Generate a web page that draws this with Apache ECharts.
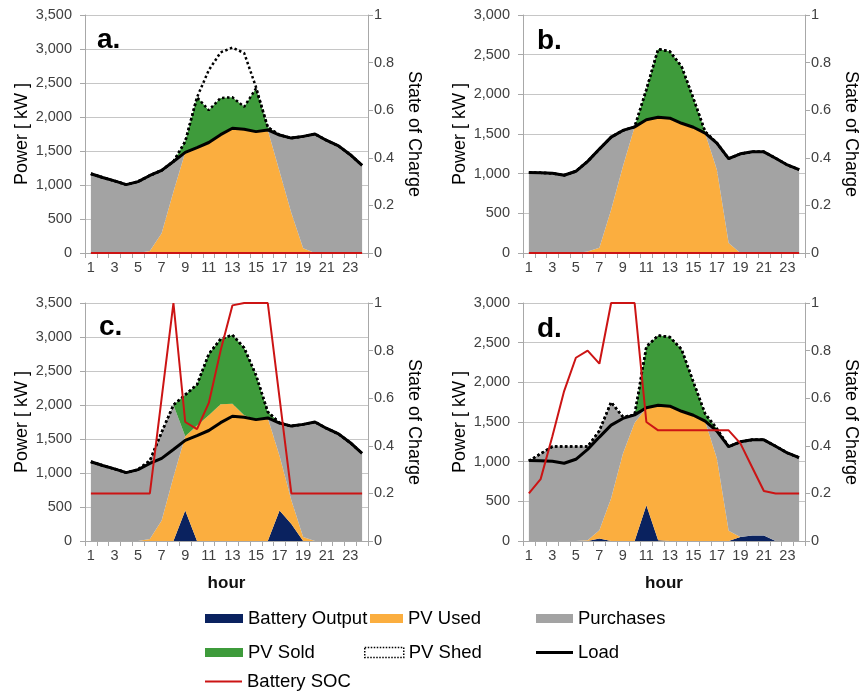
<!DOCTYPE html>
<html>
<head>
<meta charset="utf-8">
<script src="https://cdn.jsdelivr.net/npm/echarts@6/dist/echarts.min.js"></script>
<style>
  html, body { margin: 0; padding: 0; background: #fff; }
  #chart { width: 862px; height: 693px; }
</style>
</head>
<body>
<div id="chart"></div>
<script>
var hours = ['1','2','3','4','5','6','7','8','9','10','11','12','13','14','15','16','17','18','19','20','21','22','23','24'];
var powerTicksA = [0, 3500, 500];
var powerTicksB = [0, 3000, 500];
var socTicks = [0, 1, 0.2];

// a. / c. share the same load, b. / d. the other day
var loadAC = [1165,1110,1060,1005,1050,1140,1215,1345,1480,1550,1625,1740,1835,1820,1785,1810,1735,1690,1715,1750,1655,1575,1445,1290];
var loadBD = [1015,1010,1005,980,1030,1155,1310,1460,1545,1590,1680,1710,1700,1635,1585,1510,1385,1190,1250,1275,1275,1195,1110,1050];

// panel a.
var batA    = [0,0,0,0,0,0,0,0,0,0,0,0,0,0,0,0,0,0,0,0,0,0,0,0];
var pvUsedA = [0,0,0,0,0,30,290,900,1480,1550,1625,1740,1835,1820,1785,1810,1200,590,70,0,0,0,0,0];
var purchA  = [1165,1110,1060,1005,1050,1110,925,445,0,0,0,0,0,0,0,0,535,1100,1645,1750,1655,1575,1445,1290];
var soldA   = [0,0,0,0,0,0,0,0,160,740,475,540,455,330,635,40,0,0,0,0,0,0,0,0];
var shedA   = [0,0,0,0,0,0,0,0,0,0,590,670,730,790,20,0,0,0,0,0,0,0,0,0];
var socA    = [0,0,0,0,0,0,0,0,0,0,0,0,0,0,0,0,0,0,0,0,0,0,0,0];

// panel b.
var batB    = [0,0,0,0,0,0,0,0,0,0,0,0,0,0,0,0,0,0,0,0,0,0,0,0];
var pvUsedB = [0,0,0,0,0,20,65,545,1090,1590,1680,1710,1700,1635,1585,1510,1050,125,0,0,0,0,0,0];
var purchB  = [1015,1010,1005,980,1030,1135,1245,915,455,0,0,0,0,0,0,0,335,1065,1250,1275,1275,1195,1110,1050];
var soldB   = [0,0,0,0,0,0,0,0,0,0,380,860,840,715,365,20,0,0,0,0,0,0,0,0];
var shedB   = [0,0,0,0,0,0,0,0,0,0,0,0,0,0,0,0,0,0,0,0,0,0,0,0];
var socB    = [0,0,0,0,0,0,0,0,0,0,0,0,0,0,0,0,0,0,0,0,0,0,0,0];

// panel c.
var batC    = [0,0,0,0,0,0,0,0,450,0,0,0,0,0,0,0,450,250,0,0,0,0,0,0];
var pvUsedC = [0,0,0,0,0,30,300,940,1090,1700,1850,2010,2020,1850,1785,1810,800,350,60,0,0,0,0,0];
var purchC  = [1165,1110,1060,1005,1050,1150,1300,1060,0,0,0,0,0,0,0,0,485,1090,1655,1750,1655,1575,1445,1290];
var soldC   = [0,0,0,0,0,0,0,0,610,600,900,960,1010,990,655,90,0,0,0,0,0,0,0,0];
var shedC   = [0,0,0,0,0,0,0,0,0,0,0,0,0,0,0,0,0,0,0,0,0,0,0,0];
var socC    = [0.2,0.2,0.2,0.2,0.2,0.2,0.6,1,0.5,0.47,0.58,0.8,0.99,1,1,1,0.6,0.2,0.2,0.2,0.2,0.2,0.2,0.2];

// panel d.
var batD    = [0,0,0,0,0,0,30,0,0,0,450,10,0,0,0,0,0,0,50,70,70,0,0,0];
var pvUsedD = [0,0,0,0,0,10,105,540,1100,1490,1230,1700,1700,1635,1585,1510,1040,130,0,0,0,0,0,0];
var purchD  = [1010,1100,1190,1190,1190,1180,1255,1210,465,100,0,0,0,0,0,0,345,1060,1200,1205,1205,1195,1110,1050];
var soldD   = [0,0,0,0,0,0,0,0,0,0,770,880,870,780,420,95,30,0,0,0,0,0,0,0];
var shedD   = [0,0,0,0,0,0,0,0,0,0,0,0,0,0,0,0,0,0,0,0,0,0,0,0];
var socD    = [0.2,0.26,0.44,0.63,0.77,0.8,0.745,1,1,1,0.5,0.465,0.465,0.465,0.465,0.465,0.465,0.465,0.41,0.31,0.21,0.2,0.2,0.2];

var FONT = '"Liberation Sans", Arial, sans-serif';
var cNavy = '#0a225f', cOrange = '#fbae3f', cGray = '#a3a3a3', cGreen = '#3e9b3b', cRed = '#cc1414';
var gridLine = '#c6c6c6', axisGray = '#a8a8a8', labelGray = '#404040';

var panels = [
  {tag: 'a.', ticks: powerTicksA, bat: batA, pv: pvUsedA, pur: purchA, sold: soldA, shed: shedA, load: loadAC, soc: socA,
   grid: {left: 85, top: 15, width: 283, height: 238}, title: {left: 97, top: 26}, hour: false},
  {tag: 'b.', ticks: powerTicksB, bat: batB, pv: pvUsedB, pur: purchB, sold: soldB, shed: shedB, load: loadBD, soc: socB,
   grid: {left: 523, top: 15, width: 282, height: 238}, title: {left: 537, top: 27}, hour: false},
  {tag: 'c.', ticks: powerTicksA, bat: batC, pv: pvUsedC, pur: purchC, sold: soldC, shed: shedC, load: loadAC, soc: socC,
   grid: {left: 85, top: 303, width: 283, height: 238}, title: {left: 99, top: 313}, hour: true},
  {tag: 'd.', ticks: powerTicksB, bat: batD, pv: pvUsedD, pur: purchD, sold: soldD, shed: shedD, load: loadBD, soc: socD,
   grid: {left: 523, top: 303, width: 282, height: 238}, title: {left: 537, top: 315}, hour: true}
];

var grids = [], xAxes = [], yAxes = [], series = [], titles = [];

panels.forEach(function (p, i) {
  grids.push({left: p.grid.left, top: p.grid.top, width: p.grid.width, height: p.grid.height,
              containLabel: false, outerBoundsMode: 'none'});
  titles.push({text: p.tag, left: p.title.left, top: p.title.top, padding: 0,
               textStyle: {fontFamily: FONT, fontSize: 28, fontWeight: 'bold', color: '#000'}});
  xAxes.push({
    type: 'category', gridIndex: i, data: hours, boundaryGap: true,
    axisLine: {show: true, lineStyle: {color: axisGray, width: 1}},
    axisTick: {show: true, interval: 0, length: 5, lineStyle: {color: axisGray}},
    axisLabel: {interval: 1, margin: 7, fontFamily: FONT, fontSize: 14.5, color: labelGray},
    splitLine: {show: false},
    name: p.hour ? 'hour' : '', nameLocation: 'middle', nameGap: 34,
    nameTextStyle: {fontFamily: FONT, fontSize: 17, fontWeight: 'bold', color: '#111'}
  });
  yAxes.push({
    type: 'value', gridIndex: i, position: 'left', min: p.ticks[0], max: p.ticks[1], interval: p.ticks[2],
    axisLine: {show: true, lineStyle: {color: axisGray}},
    axisTick: {show: true, length: 5, lineStyle: {color: axisGray}},
    axisLabel: {margin: 13, fontFamily: FONT, fontSize: 14.5, color: labelGray},
    splitLine: {show: true, lineStyle: {color: gridLine, width: 1}},
    name: 'Power [ kW ]', nameLocation: 'middle', nameGap: 54,
    nameTextStyle: {fontFamily: FONT, fontSize: 18, color: '#000'}
  });
  yAxes.push({
    type: 'value', gridIndex: i, position: 'right', min: socTicks[0], max: socTicks[1], interval: socTicks[2],
    axisLine: {show: true, lineStyle: {color: axisGray}},
    axisTick: {show: true, length: 5, lineStyle: {color: axisGray}},
    axisLabel: {margin: 6, fontFamily: FONT, fontSize: 14.5, color: labelGray},
    splitLine: {show: false},
    name: 'State of Charge', nameLocation: 'middle', nameGap: 37, nameRotate: -90,
    nameTextStyle: {fontFamily: FONT, fontSize: 18, color: '#000'}
  });

  var stack = 'stack' + i;
  function area(name, data, color) {
    return {name: name, type: 'line', xAxisIndex: i, yAxisIndex: 2 * i, stack: stack, data: data,
            symbol: 'none', color: color, lineStyle: {width: 0}, areaStyle: {color: color, opacity: 1}};
  }
  series.push(area('Battery Output', p.bat, cNavy));
  series.push(area('PV Used', p.pv, cOrange));
  series.push(area('Purchases', p.pur, cGray));
  var sold = area('PV Sold', p.sold, cGreen);
  sold.lineStyle = {color: '#000', width: 2.5, type: [2.5, 2.5]};
  series.push(sold);
  series.push({name: 'PV Shed', type: 'line', xAxisIndex: i, yAxisIndex: 2 * i, stack: stack, data: p.shed,
               symbol: 'none', color: '#000', lineStyle: {color: '#000', width: 2.5, type: [2.5, 2.5]}});
  series.push({name: 'Load', type: 'line', xAxisIndex: i, yAxisIndex: 2 * i, data: p.load,
               symbol: 'none', color: '#000', lineStyle: {color: '#000', width: 3}});
  series.push({name: 'Battery SOC', type: 'line', xAxisIndex: i, yAxisIndex: 2 * i + 1, data: p.soc,
               symbol: 'none', color: cRed, lineStyle: {color: cRed, width: 2}});
});

// legend laid out as in the figure: three columns, three rows
function legendItem(name, left, top, w, h, itemStyle) {
  var d = {name: name, icon: 'rect'};
  if (itemStyle) d.itemStyle = itemStyle;
  return {left: left, top: top, padding: 0, itemWidth: w, itemHeight: h, selectedMode: false,
          data: [d], textStyle: {fontFamily: FONT, fontSize: 18.5, color: '#000'}};
}
var legends = [
  legendItem('Battery Output', 205, 609, 38, 9),
  legendItem('PV Used', 370, 609, 33, 9),
  legendItem('Purchases', 536, 609, 37, 9),
  legendItem('PV Sold', 205, 643, 38, 9),
  legendItem('PV Shed', 364, 643, 39, 10, {color: 'rgba(0,0,0,0)', borderColor: '#000', borderWidth: 1.5, borderType: 'dotted'}),
  legendItem('Load', 536, 643, 37, 3),
  legendItem('Battery SOC', 205, 672, 37, 2)
];

var chart = echarts.init(document.getElementById('chart'), null, {renderer: 'canvas'});
chart.setOption({
  animation: false,
  backgroundColor: '#fff',
  title: titles,
  grid: grids,
  xAxis: xAxes,
  yAxis: yAxes,
  legend: legends,
  series: series
});
</script>
</body>
</html>
